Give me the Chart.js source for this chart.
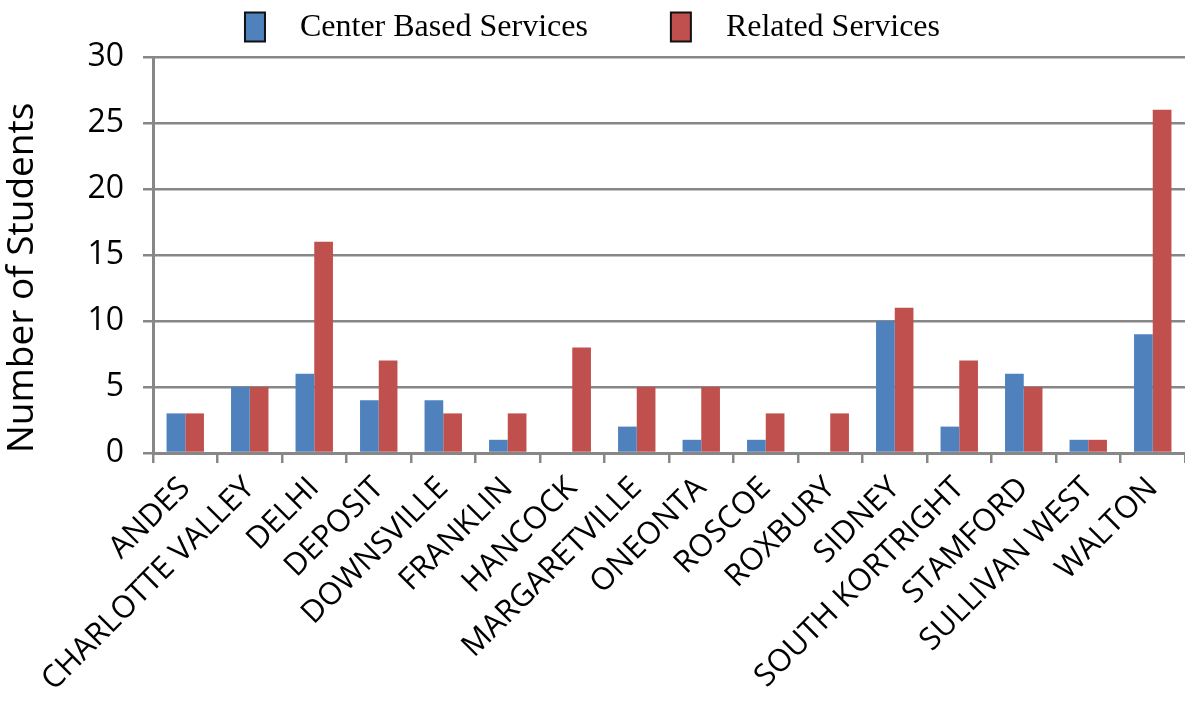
<!DOCTYPE html>
<html lang="en">
<head>
<meta charset="UTF-8"/>
<title>Number of Students</title>
<script src="https://cdn.jsdelivr.net/npm/chart.js@4.4.1/dist/chart.umd.min.js"></script>
<style>
  html, body { margin: 0; padding: 0; background: #fff; }
  #wrap { width: 1185px; height: 704px; }
</style>
</head>
<body>
<div id="wrap"><canvas id="chart"></canvas></div>
<script>
  var categories = ['ANDES', 'CHARLOTTE VALLEY', 'DELHI', 'DEPOSIT', 'DOWNSVILLE', 'FRANKLIN', 'HANCOCK',
    'MARGARETVILLE', 'ONEONTA', 'ROSCOE', 'ROXBURY', 'SIDNEY', 'SOUTH KORTRIGHT', 'STAMFORD',
    'SULLIVAN WEST', 'WALTON'];
  var centerBased = [3, 5, 6, 4, 4, 1, 0, 2, 1, 1, 0, 10, 2, 6, 1, 9];
  var related = [3, 5, 16, 7, 3, 3, 8, 5, 5, 3, 3, 11, 7, 5, 1, 26];
  var seriesNames = ['Center Based Services', 'Related Services'];
  var yTicks = [0, 5, 10, 15, 20, 25, 30];

  var axisGray = '#878787';
  var sans = "'Open Sans', sans-serif";

  // legend drawn on the canvas, centred above the plot
  var topLegend = {
    id: 'topLegend',
    afterDraw: function(chart) {
      var ctx = chart.ctx;
      var sets = chart.data.datasets;
      var boxW = 20, boxH = 29, gap = 35, itemGap = 83;
      ctx.save();
      ctx.font = '32px "Liberation Serif", serif';
      var widths = sets.map(function(ds) { return ctx.measureText(ds.label).width; });
      var total = 0;
      widths.forEach(function(w, i) { total += boxW + gap + w + (i ? itemGap : 0); });
      var x = (chart.width - total) / 2;
      var cy = 27;
      sets.forEach(function(ds, i) {
        ctx.fillStyle = ds.backgroundColor;
        ctx.fillRect(x, cy - boxH / 2, boxW, boxH);
        ctx.lineWidth = 2;
        ctx.strokeStyle = '#111';
        ctx.strokeRect(x, cy - boxH / 2, boxW, boxH);
        ctx.fillStyle = '#000';
        ctx.textBaseline = 'middle';
        ctx.fillText(ds.label, x + boxW + gap, cy + 1);
        x += boxW + gap + widths[i] + itemGap;
      });
      ctx.restore();
    }
  };

  new Chart(document.getElementById('chart'), {
    type: 'bar',
    data: {
      labels: categories,
      datasets: [
        { label: seriesNames[0], data: centerBased, backgroundColor: '#4F81BD' },
        { label: seriesNames[1], data: related, backgroundColor: '#C0504D' }
      ]
    },
    options: {
      responsive: true,
      maintainAspectRatio: false,
      animation: false,
      layout: { padding: { top: 57, left: 0, right: 0, bottom: 0 } },
      datasets: { bar: { categoryPercentage: 0.58, barPercentage: 1.0 } },
      plugins: {
        legend: { display: false },
        tooltip: { enabled: false }
      },
      scales: {
        x: {
          grid: { offset: true, drawOnChartArea: false, drawTicks: true, tickLength: 10, color: axisGray, lineWidth: 2.5 },
          border: { display: true, color: axisGray, width: 3 },
          ticks: {
            color: '#000', autoSkip: false, maxRotation: 45, minRotation: 45, padding: 7,
            font: { family: sans, size: 31 }
          },
          afterFit: function(s) { s.paddingLeft = 0; s.paddingRight = 0; s.height = 251; }
        },
        y: {
          min: 0, max: 30,
          afterBuildTicks: function(s) { s.ticks = yTicks.map(function(v) { return { value: v }; }); },
          grid: { color: axisGray, lineWidth: 2.5, tickLength: 10 },
          border: { display: true, color: axisGray, width: 3 },
          ticks: { color: '#000', padding: 19, font: { family: sans, size: 32 } },
          title: {
            display: true, text: 'Number of Students', color: '#000', align: 'start',
            font: { family: sans, size: 37 }, padding: { top: 0, bottom: 0 }
          },
          afterFit: function(s) { s.width = 153; }
        }
      }
    },
    plugins: [topLegend]
  });
</script>
</body>
</html>
